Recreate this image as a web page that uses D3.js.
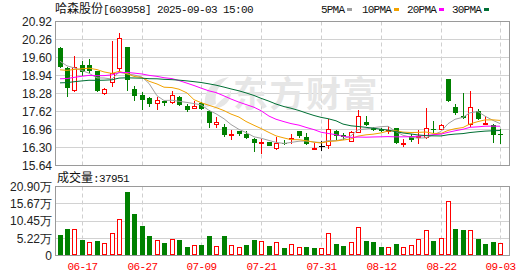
<!DOCTYPE html>
<html>
<head>
<meta charset="utf-8">
<script src="https://cdn.jsdelivr.net/npm/d3@7"></script>
<style>
  html, body { margin: 0; padding: 0; background: #fff; }
  svg { display: block; }
</style>
</head>
<body>
<div id="chart"></div>
<script>
/* -------------------------------------------------
   哈森股份 daily K-line + volume
   ------------------------------------------------- */
const dates = [
  "06-12","06-13","06-16","06-17","06-18","06-19","06-20","06-23","06-24","06-25","06-26","06-27","06-30",
  "07-01","07-02","07-03","07-04","07-07","07-08","07-09","07-10","07-11","07-14","07-15","07-16","07-17","07-18",
  "07-21","07-22","07-23","07-24","07-25","07-28","07-29","07-30","07-31",
  "08-01","08-04","08-05","08-06","08-07","08-08","08-11","08-12","08-13","08-14","08-15","08-18","08-19","08-20",
  "08-21","08-22","08-25","08-26","08-27","08-28","08-29","09-01","09-02","09-03"
];

const opens  = [19.96,19.23,18.36,19.34,19.34,19.09,18.27,18.67,19.19,19.98,18.45,18.24,18.11,17.90,18.01,17.92,18.17,17.84,17.72,17.92,
                17.63,17.11,17.04,16.76,16.89,16.80,16.63,16.44,16.51,16.24,16.47,16.56,16.89,16.68,16.20,16.34,16.37,16.89,16.77,16.50,
                16.85,17.25,17.01,16.99,16.90,17.01,16.46,16.74,16.66,16.65,16.99,16.96,18.82,17.77,17.44,17.11,17.65,17.15,17.13,16.81];
const highs  = [19.97,19.25,19.65,19.46,19.55,19.10,18.47,20.19,20.49,20.00,18.56,18.35,18.17,18.17,18.03,18.39,18.18,17.90,18.02,17.96,
                17.66,17.41,17.17,16.95,16.92,16.92,16.65,16.62,16.51,16.68,16.56,16.80,16.90,16.83,16.47,16.53,17.35,16.95,16.85,16.92,
                17.68,17.44,17.07,17.03,17.09,17.03,16.62,16.80,16.96,17.76,17.29,17.17,18.83,17.88,18.29,18.39,17.72,17.44,17.17,16.99];
const lows   = [19.22,18.14,18.34,18.94,19.02,18.32,18.22,18.51,19.12,18.39,18.02,17.68,17.78,17.69,17.83,17.90,17.81,17.62,17.72,17.66,
                17.01,17.02,16.68,16.58,16.71,16.62,16.15,16.07,16.37,16.22,16.40,16.44,16.65,16.40,16.20,16.16,16.25,16.58,16.58,16.49,
                16.83,17.09,16.89,16.86,16.80,16.42,16.31,16.52,16.44,16.62,16.82,16.96,17.96,17.50,17.36,17.07,17.32,17.14,16.46,16.44];
const closes = [19.24,18.47,19.24,19.06,19.10,18.39,18.45,19.05,20.32,18.78,18.20,18.06,17.89,18.05,17.92,18.24,17.87,17.68,17.84,17.70,
                17.21,17.25,16.77,16.78,16.81,16.64,16.46,16.51,16.37,16.46,16.44,16.65,16.73,16.42,16.27,16.34,16.99,16.73,16.70,16.88,
                17.46,17.13,16.95,16.90,16.95,16.46,16.48,16.59,16.74,17.01,16.96,17.13,18.02,17.55,17.38,17.79,17.34,17.19,16.77,16.80];
const volumes = [63300,81400,79300,47300,42200,45200,38200,68400,110600,193000,124600,90500,60300,47300,39200,50300,46000,27100,32200,33200,
                 60300,29200,60300,32200,26200,33200,46200,45200,30200,42200,22100,35200,27100,27100,22100,24100,69400,36200,30200,42200,
                 87500,45200,42200,27100,27100,36200,27100,32200,50300,77400,45200,53300,164900,81400,78400,77400,51300,36200,42200,37951];

// closes of the 29 sessions before 06-12, only used to feed the moving averages
const priorCloses = [18.2,18.3,18.1,18.4,18.5,18.3,18.6,18.4,18.5,18.4,
                     18.3,18.4,18.2,18.5,18.6,18.4,18.5,18.7,18.6,18.7,
                     18.7,18.9,18.8,18.9,18.9,19.3,19.6,19.56,19.6];

const priceTicks = [15.64,16.30,16.96,17.62,18.28,18.94,19.60,20.26,20.92];
const volTicks = [0,52200,104500,156700,209000];
const volTickLabels = ["0","5.22万","10.45万","15.67万","20.90万"];
const dateTicks = ["06-17","06-27","07-09","07-21","07-31","08-12","08-22","09-03"];
const maPeriods = [5,10,20,30];
const maNames = ["5PMA","10PMA","20PMA","30PMA"];
const maColors = ["#a0a0a0","#f2a200","#ff00ff","#006f34"];

(function () {
  const width = 530, height = 276;
  const left = 55.5, right = 509.5;
  const mainTop = 21.5, mainBottom = 165.5;
  const volTop = 186.5, volBottom = 255.5;
  const RED = "#ff0000", GREEN = "#008000";

  const svg = d3.select("#chart").append("svg")
      .attr("width", width)
      .attr("height", height);

  // ---------------------------------------------------------
  // SCALES
  // ---------------------------------------------------------
  const x = d3.scaleBand().domain(dates).range([55.8, 55.8 + 7.47 * dates.length]);
  const cx = d => Math.round(x(d) + x.bandwidth() / 2) + 0.5;
  const y = d3.scaleLinear().domain([15.64, 20.92]).range([mainBottom, mainTop]);
  const yv = d3.scaleLinear().domain([0, 209000]).range([volBottom, volTop]);
  const snap = v => Math.round(v - 0.5) + 0.5;

  const bars = dates.map((d, i) => ({
    date: d, o: opens[i], h: highs[i], l: lows[i], c: closes[i], v: volumes[i],
    prev: i === 0 ? priorCloses[priorCloses.length - 1] : closes[i - 1]
  }));

  // ---------------------------------------------------------
  // GRIDS + FRAMES
  // ---------------------------------------------------------
  const grid = svg.append("g");
  [[mainTop, mainBottom], [volTop, volBottom]].forEach(([t, b]) => {
    grid.selectAll(null).data(dateTicks).enter().append("line")
      .attr("x1", cx).attr("x2", cx).attr("y1", t).attr("y2", b)
      .attr("stroke", "#cfcfcf").attr("stroke-dasharray", "4,3");
  });
  grid.selectAll(null).data(priceTicks.slice(1, -1)).enter().append("line")
    .attr("x1", left).attr("x2", right)
    .attr("y1", d => snap(y(d))).attr("y2", d => snap(y(d)))
    .attr("stroke", "#d2d2d2");
  grid.selectAll(null).data(volTicks.slice(1, -1)).enter().append("line")
    .attr("x1", left).attr("x2", right)
    .attr("y1", d => snap(yv(d))).attr("y2", d => snap(yv(d)))
    .attr("stroke", "#d2d2d2");

  // watermark
  const wm = svg.append("g").attr("fill", "#e6e6e6");
  wm.append("path")
    .attr("d", "M205,108 C203,92 211,80 229,77 C219,84 214,93 216,104 Z M213,109 C221,98 229,96 231,90 C232,100 225,108 213,109 Z");
  wm.append("text")
    .attr("x", 233).attr("y", 107)
    .style("font-family", "'Noto Sans CJK SC'")
    .style("font-weight", "bold")
    .style("font-size", "35px")
    .style("letter-spacing", "1.5px")
    .text("东方财富");

  [[mainTop, mainBottom], [volTop, volBottom]].forEach(([t, b]) => {
    svg.append("rect")
      .attr("x", left).attr("y", t).attr("width", right - left).attr("height", b - t)
      .attr("fill", "none").attr("stroke", "#9a9a9a");
  });

  // ---------------------------------------------------------
  // CANDLES
  // ---------------------------------------------------------
  const gC = svg.append("g").attr("shape-rendering", "crispEdges");
  bars.forEach(b => {
    const col = b.c > b.o ? RED : b.c < b.o ? GREEN : "#000";
    const xc = cx(b.date);
    const yTop = Math.round(y(Math.max(b.o, b.c)));
    const yBot = Math.max(Math.round(y(Math.min(b.o, b.c))), yTop + 1);
    const yH = Math.round(y(b.h)), yL = Math.round(y(b.l));
    if (b.c > b.o) {
      gC.append("line").attr("x1", xc).attr("x2", xc).attr("y1", yH).attr("y2", yTop).attr("stroke", col);
      gC.append("line").attr("x1", xc).attr("x2", xc).attr("y1", yBot).attr("y2", yL).attr("stroke", col);
      gC.append("rect")
        .attr("x", xc - 2).attr("y", yTop + 0.5)
        .attr("width", 4).attr("height", Math.max(yBot - yTop - 1, 0.5))
        .attr("fill", "#fff").attr("stroke", col);
    } else if (b.c < b.o) {
      gC.append("line").attr("x1", xc).attr("x2", xc).attr("y1", yH).attr("y2", yL).attr("stroke", col);
      gC.append("rect")
        .attr("x", xc - 2.5).attr("y", yTop)
        .attr("width", 5).attr("height", yBot - yTop)
        .attr("fill", col);
    } else {
      gC.append("line").attr("x1", xc).attr("x2", xc).attr("y1", yH).attr("y2", yL).attr("stroke", col);
      gC.append("line").attr("x1", xc - 3).attr("x2", xc + 3)
        .attr("y1", yTop + 0.5).attr("y2", yTop + 0.5).attr("stroke", col);
    }
  });

  // ---------------------------------------------------------
  // MOVING AVERAGES
  // ---------------------------------------------------------
  const allCloses = priorCloses.concat(closes);
  const off = priorCloses.length;
  maPeriods.forEach((n, k) => {
    const pts = dates.map((d, i) => [cx(d) - 0.5, y(d3.mean(allCloses.slice(off + i - n + 1, off + i + 1)))]);
    svg.append("path")
      .attr("d", d3.line()(pts))
      .attr("fill", "none")
      .attr("stroke", maColors[k])
      .attr("stroke-width", 1);
  });

  // ---------------------------------------------------------
  // VOLUME
  // ---------------------------------------------------------
  const gV = svg.append("g").attr("shape-rendering", "crispEdges");
  bars.forEach(b => {
    const up = b.c >= b.prev;
    const xc = cx(b.date);
    const yt = Math.round(yv(b.v));
    const yb = Math.round(volBottom - 0.5);
    if (up) {
      gV.append("rect")
        .attr("x", xc - 2).attr("y", yt + 0.5)
        .attr("width", 4).attr("height", yb - yt - 1)
        .attr("fill", "#fff").attr("stroke", RED);
    } else {
      gV.append("rect")
        .attr("x", xc - 2.5).attr("y", yt)
        .attr("width", 5).attr("height", yb - yt)
        .attr("fill", GREEN);
    }
  });

  // ---------------------------------------------------------
  // AXIS LABELS
  // ---------------------------------------------------------
  const sans = "'Liberation Sans', Arial, sans-serif";
  const mono = "'Liberation Mono', 'DejaVu Sans Mono', monospace";
  const cjk = "'Noto Sans CJK SC', sans-serif";

  svg.append("g").selectAll("text").data(priceTicks).enter().append("text")
    .attr("x", 52).attr("y", d => y(d)).attr("dy", "0.36em")
    .attr("text-anchor", "end")
    .style("font-family", sans).style("font-size", "12px").style("fill", "#222")
    .text(d => d.toFixed(2));

  svg.append("g").selectAll("text").data(volTicks).enter().append("text")
    .attr("x", 52).attr("y", d => yv(d)).attr("dy", "0.36em")
    .attr("text-anchor", "end")
    .style("font-family", sans).style("font-size", "12px").style("fill", "#222")
    .text((d, i) => volTickLabels[i]);

  svg.append("g").selectAll("text").data(dateTicks).enter().append("text")
    .attr("x", cx).attr("y", 270)
    .attr("text-anchor", "middle")
    .style("font-family", mono).style("font-size", "11px")
    .style("letter-spacing", "-0.6px").style("fill", RED)
    .text(d => d);

  // ---------------------------------------------------------
  // TITLE + LEGEND
  // ---------------------------------------------------------
  const title = svg.append("text").attr("x", 55).attr("y", 13).style("fill", "#111");
  title.append("tspan").style("font-family", cjk).style("font-size", "12px").text("哈森股份");
  title.append("tspan").style("font-family", mono).style("font-size", "11px")
    .style("letter-spacing", "-0.6px").text("[603958] 2025-09-03 15:00");

  const legX = [321, 362, 407, 452];
  maNames.forEach((nm, k) => {
    svg.append("text").attr("x", legX[k]).attr("y", 13)
      .style("font-family", mono).style("font-size", "11px")
      .style("letter-spacing", "-0.8px").style("fill", "#111")
      .text(nm);
    svg.append("rect")
      .attr("x", legX[k] + nm.length * 6 + 2).attr("y", 8)
      .attr("width", 5).attr("height", 3)
      .attr("fill", maColors[k]);
  });

  const vh = svg.append("text").attr("x", 57).attr("y", 182).style("fill", "#111");
  vh.append("tspan").style("font-family", cjk).style("font-size", "12px").text("成交量");
  vh.append("tspan").style("font-family", mono).style("font-size", "11px")
    .style("letter-spacing", "-0.6px").text(":" + volumes[volumes.length - 1]);
})();
</script>
</body>
</html>
